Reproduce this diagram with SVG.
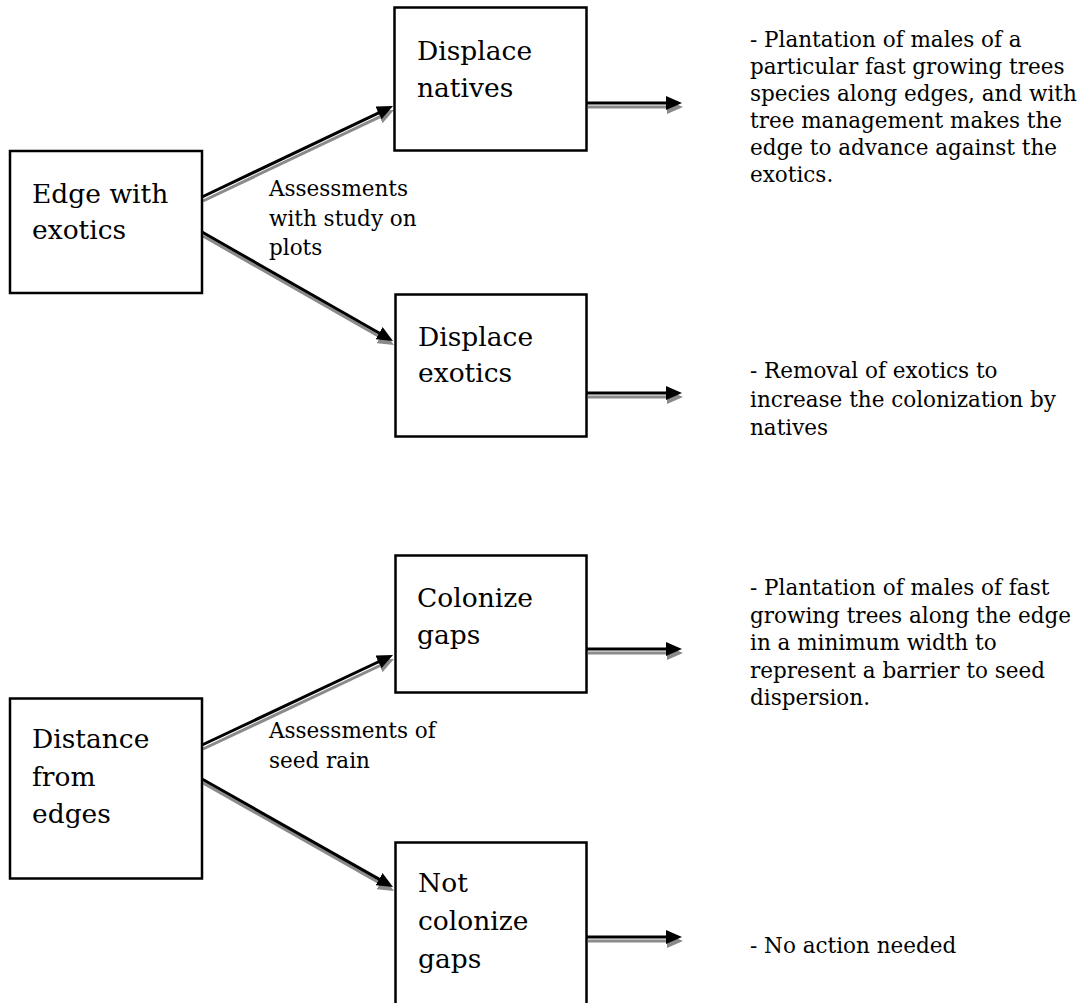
<svg xmlns="http://www.w3.org/2000/svg" width="1088" height="1003" viewBox="0 0 1088 1003">
<defs>
<style>
.box{fill:#fff;stroke:#000;stroke-width:2.5}
.bt{font-family:"DejaVu Serif","Liberation Serif",serif;font-size:26.5px;fill:#000}
.st{font-family:"DejaVu Serif","Liberation Serif",serif;font-size:21.5px;fill:#000}
.cb{stroke:#000;stroke-width:3;fill:none;marker-end:url(#ah)}
.cs{stroke:#8a8a8a;stroke-width:3;fill:none;marker-end:url(#ahs)}
</style>
<marker id="ah" viewBox="0 0 16 14" refX="6" refY="7" markerWidth="16" markerHeight="14" markerUnits="userSpaceOnUse" orient="auto">
<path d="M0,0 L16,7 L0,14 Z" fill="#000"/>
</marker>
<marker id="ahs" viewBox="0 0 16 14" refX="6" refY="7" markerWidth="16" markerHeight="14" markerUnits="userSpaceOnUse" orient="auto">
<path d="M0,0 L16,7 L0,14 Z" fill="#8a8a8a"/>
</marker>
</defs>
<rect width="1088" height="1003" fill="#fff"/>

<g id="connectors">
<g id="shadows" transform="translate(1,4)">
<line class="cs" x1="202" y1="197" x2="383.97" y2="110.3"/>
<line class="cs" x1="202" y1="232" x2="384.31" y2="336.04"/>
<line class="cs" x1="202" y1="745" x2="383.95" y2="659.26"/>
<line class="cs" x1="202" y1="779" x2="384.3" y2="882.08"/>
<line class="cs" x1="587" y1="103" x2="672" y2="103"/>
<line class="cs" x1="587" y1="393" x2="672" y2="393"/>
<line class="cs" x1="587" y1="649" x2="672" y2="649"/>
<line class="cs" x1="587" y1="937" x2="672" y2="937"/>
</g>
<line class="cb" x1="202" y1="197" x2="383.97" y2="110.3"/>
<line class="cb" x1="202" y1="232" x2="384.31" y2="336.04"/>
<line class="cb" x1="202" y1="745" x2="383.95" y2="659.26"/>
<line class="cb" x1="202" y1="779" x2="384.3" y2="882.08"/>
<line class="cb" x1="587" y1="103" x2="672" y2="103"/>
<line class="cb" x1="587" y1="393" x2="672" y2="393"/>
<line class="cb" x1="587" y1="649" x2="672" y2="649"/>
<line class="cb" x1="587" y1="937" x2="672" y2="937"/>
</g>

<g id="edge-with-exotics">
<rect class="box" x="10" y="151" width="192" height="142"/>
<text class="bt" x="32" y="203">Edge with</text>
<text class="bt" x="32" y="239">exotics</text>
</g>

<g id="displace-natives">
<rect class="box" x="394.5" y="7.5" width="192" height="143"/>
<text class="bt" x="417" y="60">Displace</text>
<text class="bt" x="417" y="97">natives</text>
</g>

<g id="displace-exotics">
<rect class="box" x="395.5" y="294.5" width="191" height="142"/>
<text class="bt" x="418" y="346">Displace</text>
<text class="bt" x="418" y="382">exotics</text>
</g>

<g id="distance-from-edges">
<rect class="box" x="10" y="698.5" width="192" height="180"/>
<text class="bt" x="32" y="748">Distance</text>
<text class="bt" x="32" y="786">from</text>
<text class="bt" x="32" y="823">edges</text>
</g>

<g id="colonize-gaps">
<rect class="box" x="395.5" y="555.5" width="191" height="137"/>
<text class="bt" x="417" y="607">Colonize</text>
<text class="bt" x="417" y="644">gaps</text>
</g>

<g id="not-colonize-gaps">
<rect class="box" x="395.5" y="842.5" width="191" height="180"/>
<text class="bt" x="418" y="892">Not</text>
<text class="bt" x="418" y="930">colonize</text>
<text class="bt" x="418" y="968">gaps</text>
</g>

<g id="label-assessments-plots">
<text class="st" x="269" y="196">Assessments</text>
<text class="st" x="269" y="226">with study on</text>
<text class="st" x="269" y="255">plots</text>
</g>

<g id="label-assessments-seed">
<text class="st" x="269" y="738">Assessments of</text>
<text class="st" x="269" y="768">seed rain</text>
</g>

<g id="desc-displace-natives">
<text class="st" x="750" y="47">- Plantation of males of a</text>
<text class="st" x="750" y="74">particular fast growing trees</text>
<text class="st" x="750" y="101">species along edges, and with</text>
<text class="st" x="750" y="128">tree management makes the</text>
<text class="st" x="750" y="155">edge to advance against the</text>
<text class="st" x="750" y="182">exotics.</text>
</g>

<g id="desc-displace-exotics">
<text class="st" x="750" y="378">- Removal of exotics to</text>
<text class="st" x="750" y="407">increase the colonization by</text>
<text class="st" x="750" y="435">natives</text>
</g>

<g id="desc-colonize-gaps">
<text class="st" x="750" y="595">- Plantation of males of fast</text>
<text class="st" x="750" y="622.5">growing trees along the edge</text>
<text class="st" x="750" y="650">in a minimum width to</text>
<text class="st" x="750" y="677.5">represent a barrier to seed</text>
<text class="st" x="750" y="705">dispersion.</text>
</g>

<g id="desc-not-colonize">
<text class="st" x="750" y="953">- No action needed</text>
</g>
</svg>
